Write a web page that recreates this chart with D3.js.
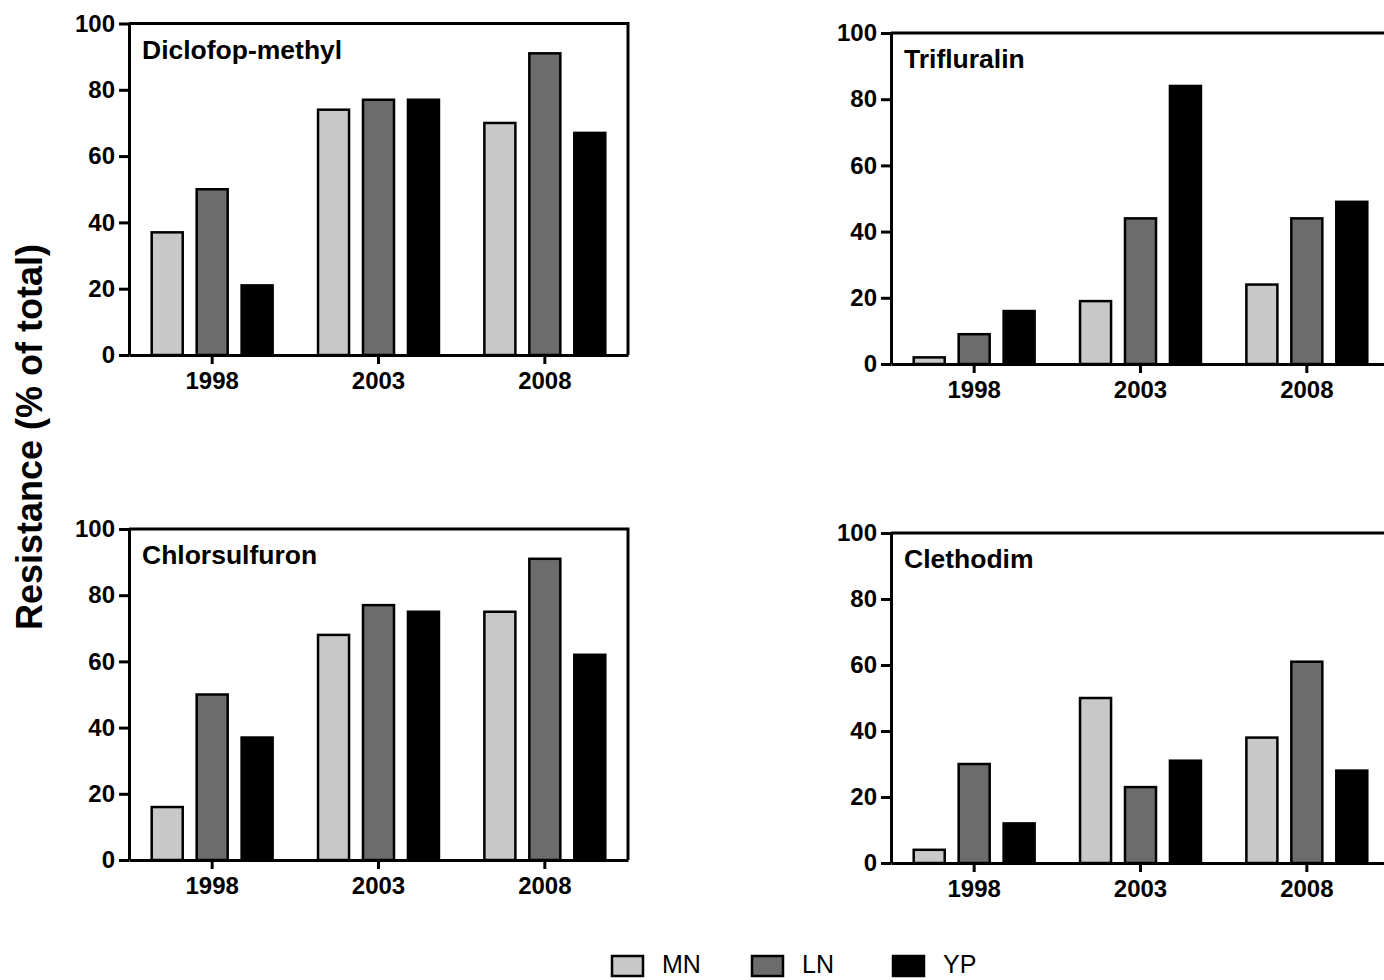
<!DOCTYPE html>
<html><head><meta charset="utf-8">
<script src="https://cdn.jsdelivr.net/npm/d3@7"></script>
<style>
body{margin:0;background:#fff}
svg{display:block}
text{font-family:"Liberation Sans",Arial,Helvetica,sans-serif}
</style>
</head><body>
<svg id="c" width="1384" height="980"></svg>
<script>
// ---- data ----
const years = ["1998", "2003", "2008"];
const series = ["MN", "LN", "YP"];
const seriesColors = ["#c8c8c8", "#6c6c6c", "#000000"];
const yTickValues = [0, 20, 40, 60, 80, 100];
const titles = ["Diclofop-methyl", "Trifluralin", "Chlorsulfuron", "Clethodim"];
const yAxisTitle = "Resistance (% of total)";
// rows: MN, LN, YP ; columns: 1998, 2003, 2008
const diclofopMethyl = [[37, 74, 70], [50, 77, 91], [21, 77, 67]];
const trifluralin    = [[2, 19, 24],  [9, 44, 44],  [16, 84, 49]];
const chlorsulfuron  = [[16, 68, 75], [50, 77, 91], [37, 75, 62]];
const clethodim      = [[4, 50, 38],  [30, 23, 61], [12, 31, 28]];

// ---- layout ----
const svg = d3.select("#c");
const panels = [
  {title: titles[0], data: diclofopMethyl, x0: 129, top: 23.5, bottom: 355},
  {title: titles[1], data: trifluralin,    x0: 891, top: 33,   bottom: 364},
  {title: titles[2], data: chlorsulfuron,  x0: 129, top: 529,  bottom: 860},
  {title: titles[3], data: clethodim,      x0: 891, top: 533,  bottom: 863}
];
const W = 499;

panels.forEach(p => {
  const g = svg.append("g").attr("transform", `translate(${p.x0},0)`);
  const x = d3.scaleBand().domain(years).range([0, W]).paddingInner(0.273).paddingOuter(0.1365);
  const xs = d3.scaleBand().domain(series).range([0, x.bandwidth()]).paddingInner(0.31);
  const y = d3.scaleLinear().domain([0, 100]).range([p.bottom, p.top]);

  const cells = [];
  series.forEach((s, j) => years.forEach((yr, i) => cells.push({s, j, yr, v: p.data[j][i]})));
  g.selectAll("rect.bar").data(cells).join("rect")
    .attr("class", "bar")
    .attr("x", d => x(d.yr) + xs(d.s))
    .attr("y", d => y(d.v))
    .attr("width", xs.bandwidth())
    .attr("height", d => y(0) - y(d.v))
    .attr("fill", d => seriesColors[d.j])
    .attr("stroke", "#000")
    .attr("stroke-width", 2.5);

  // frame top + right
  g.append("path")
    .attr("d", `M0,${y(100)}H${W}V${y(0)}`)
    .attr("fill", "none").attr("stroke", "#000").attr("stroke-width", 3);

  const ya = g.append("g").call(d3.axisLeft(y).tickValues(yTickValues).tickSize(10).tickSizeOuter(0).tickPadding(4));
  const xa = g.append("g").attr("transform", `translate(0,${y(0)})`)
    .call(d3.axisBottom(x).tickSize(9).tickSizeOuter(0).tickPadding(8));
  [ya, xa].forEach(a => {
    a.select(".domain").attr("stroke", "#000").attr("stroke-width", 3);
    a.selectAll(".tick line").attr("stroke", "#000").attr("stroke-width", 3);
    a.selectAll(".tick text").attr("fill", "#000").style("font-size", "24px").style("font-weight", "bold")
      .style("font-family", '"Liberation Sans",Arial,sans-serif');
  });

  g.append("text").attr("x", 13).attr("y", y(100) + 35)
    .style("font-size", "26.5px").style("font-weight", "bold").text(p.title);
});

// y axis title
svg.append("text")
  .attr("transform", "translate(42,437) rotate(-90)")
  .attr("text-anchor", "middle")
  .style("font-size", "36px").style("font-weight", "bold")
  .text(yAxisTitle);

// legend
const legendBoxX = [612, 752, 893];
const lg = svg.append("g");
series.forEach((s, j) => {
  lg.append("rect").attr("x", legendBoxX[j]).attr("y", 956).attr("width", 31).attr("height", 20)
    .attr("fill", seriesColors[j]).attr("stroke", "#000").attr("stroke-width", 2.5);
  lg.append("text").attr("x", legendBoxX[j] + 50).attr("y", 973)
    .style("font-size", "25px").text(s);
});
</script>
</body></html>
